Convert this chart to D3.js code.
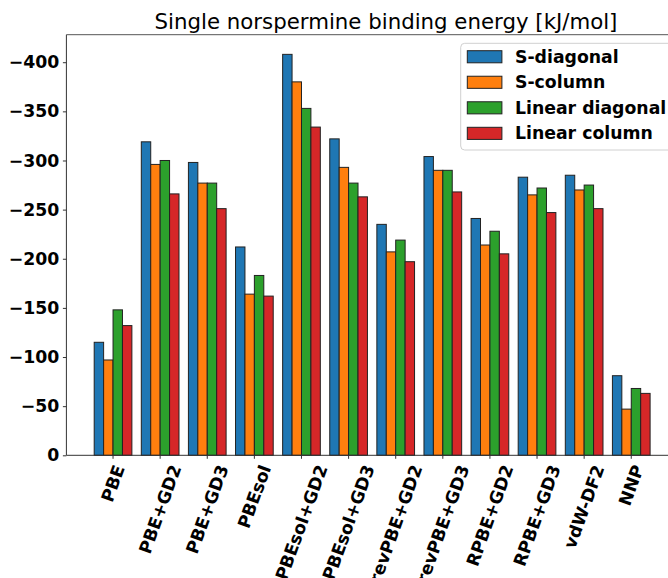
<!DOCTYPE html>
<html>
<head>
<meta charset="utf-8">
<script src="https://cdn.jsdelivr.net/npm/d3@7"></script>
<style>
  body { margin: 0; background: #fff; }
  svg { display: block; font-family: "DejaVu Sans", sans-serif; }
</style>
</head>
<body>
<svg id="chart" width="668" height="578"></svg>
<script>
// binding energies in kJ/mol
const categories = ['PBE', 'PBE+GD2', 'PBE+GD3', 'PBEsol', 'PBEsol+GD2', 'PBEsol+GD3',
  'revPBE+GD2', 'revPBE+GD3', 'RPBE+GD2', 'RPBE+GD3', 'vdW-DF2', 'NNP'];
const seriesNames = ['S-diagonal', 'S-column', 'Linear diagonal', 'Linear column'];
const sDiagonal = [-115, -319, -298, -212, -408, -322, -235, -304, -241, -283, -285, -81];
const sColumn = [-97, -296, -277, -164, -380, -293, -207, -290, -214, -265, -270, -47];
const linearDiagonal = [-148, -300, -277, -183, -353, -277, -219, -290, -228, -272, -275, -68];
const linearColumn = [-132, -266, -251, -162, -334, -263, -197, -268, -205, -247, -251, -63];
const yTicks = [0, -50, -100, -150, -200, -250, -300, -350, -400];
const colors = ['#1f77b4', '#ff7f0e', '#2ca02c', '#d62728'];

const series = [sDiagonal, sColumn, linearDiagonal, linearColumn];
const fs = 17.3;

const svg = d3.select('#chart');
const plot = { left: 66.4, right: 677.9, top: 34.7, bottom: 455.3 };

// index scale (matplotlib-like x limits), then bands for groups and bars
const xi = d3.scaleLinear().domain([-0.99, categories.length - 1 + 0.99]).range([plot.left, plot.right]);
const x0 = d3.scaleBand()
  .domain(categories)
  .range([xi(-0.5), xi(categories.length - 0.5)])
  .paddingInner(0.2)
  .paddingOuter(0.1);
const x1 = d3.scaleBand().domain(seriesNames).range([0, x0.bandwidth()]);

const y = d3.scaleLinear().domain([0, -428]).range([plot.bottom, plot.top]);

// bars
series.forEach((vals, si) => {
  svg.append('g')
    .selectAll('rect')
    .data(vals)
    .enter().append('rect')
    .attr('x', (d, i) => x0(categories[i]) + x1(seriesNames[si]))
    .attr('y', d => y(d))
    .attr('width', x1.bandwidth())
    .attr('height', d => y(0) - y(d))
    .attr('fill', colors[si])
    .attr('stroke', '#222')
    .attr('stroke-width', 1);
});

// spines
svg.append('line')
  .attr('x1', plot.left).attr('x2', plot.left)
  .attr('y1', plot.top).attr('y2', plot.bottom)
  .attr('stroke', '#333').attr('stroke-width', 1);
svg.append('line')
  .attr('x1', plot.left).attr('x2', plot.right)
  .attr('y1', plot.top).attr('y2', plot.top)
  .attr('stroke', '#555').attr('stroke-width', 1);
svg.append('line')
  .attr('x1', plot.left).attr('x2', plot.right)
  .attr('y1', plot.bottom).attr('y2', plot.bottom)
  .attr('stroke', '#333').attr('stroke-width', 1);

// y axis, with a real minus sign
const yAxis = svg.append('g')
  .attr('transform', `translate(${plot.left},0)`)
  .call(d3.axisLeft(y).tickValues(yTicks).tickSize(3.5).tickPadding(3.5)
    .tickFormat(d => d < 0 ? '\u2212' + Math.abs(d) : String(d)));
yAxis.select('.domain').remove();
yAxis.selectAll('line').attr('stroke', '#333');
yAxis.selectAll('text')
  .attr('font-size', fs)
  .attr('font-weight', 'bold')
  .attr('font-family', '"DejaVu Sans", sans-serif')
  .attr('fill', '#000');

// x axis ticks
const xAxis = svg.append('g')
  .attr('transform', `translate(0,${plot.bottom})`)
  .call(d3.axisBottom(x0).tickSize(3.5).tickFormat(''));
xAxis.select('.domain').remove();
xAxis.selectAll('line').attr('stroke', '#333');

// rotated x labels, centred under the tick like matplotlib
const rot = 70 * Math.PI / 180;
const labelTop = plot.bottom + 3.5 + 3.5;
categories.forEach(c => {
  const cx = x0(c) + x0.bandwidth() / 2;
  const t = svg.append('text')
    .attr('font-size', fs)
    .attr('font-weight', 'bold')
    .attr('text-anchor', 'middle')
    .attr('dominant-baseline', 'central')
    .text(c);
  const w = t.node().getComputedTextLength();
  const h = fs * 1.17;
  const bh = w * Math.sin(rot) + h * Math.cos(rot);
  const cy = labelTop + bh / 2;
  t.attr('transform', `translate(${cx},${cy}) rotate(-70)`);
});

// title
svg.append('text')
  .attr('x', 386)
  .attr('y', 29)
  .attr('text-anchor', 'middle')
  .attr('font-size', 21.3)
  .attr('fill', '#000')
  .text('Single norspermine binding energy [kJ/mol]');

// legend
const legend = svg.append('g');
legend.append('rect')
  .attr('x', 460.7).attr('y', 43.3)
  .attr('width', 230).attr('height', 106.7)
  .attr('rx', 4)
  .attr('fill', 'rgba(255,255,255,0.8)')
  .attr('stroke', '#d0d0d0');
const rowY = d3.scaleLinear().domain([0, 3]).range([56.7, 133.3]);
seriesNames.forEach((name, i) => {
  legend.append('rect')
    .attr('x', 467.3).attr('y', rowY(i) - 6)
    .attr('width', 34.6).attr('height', 12.1)
    .attr('fill', colors[i])
    .attr('stroke', '#222');
  legend.append('text')
    .attr('x', 515).attr('y', rowY(i))
    .attr('dominant-baseline', 'central')
    .attr('font-size', fs)
    .attr('font-weight', 'bold')
    .text(name);
});
</script>
</body>
</html>
